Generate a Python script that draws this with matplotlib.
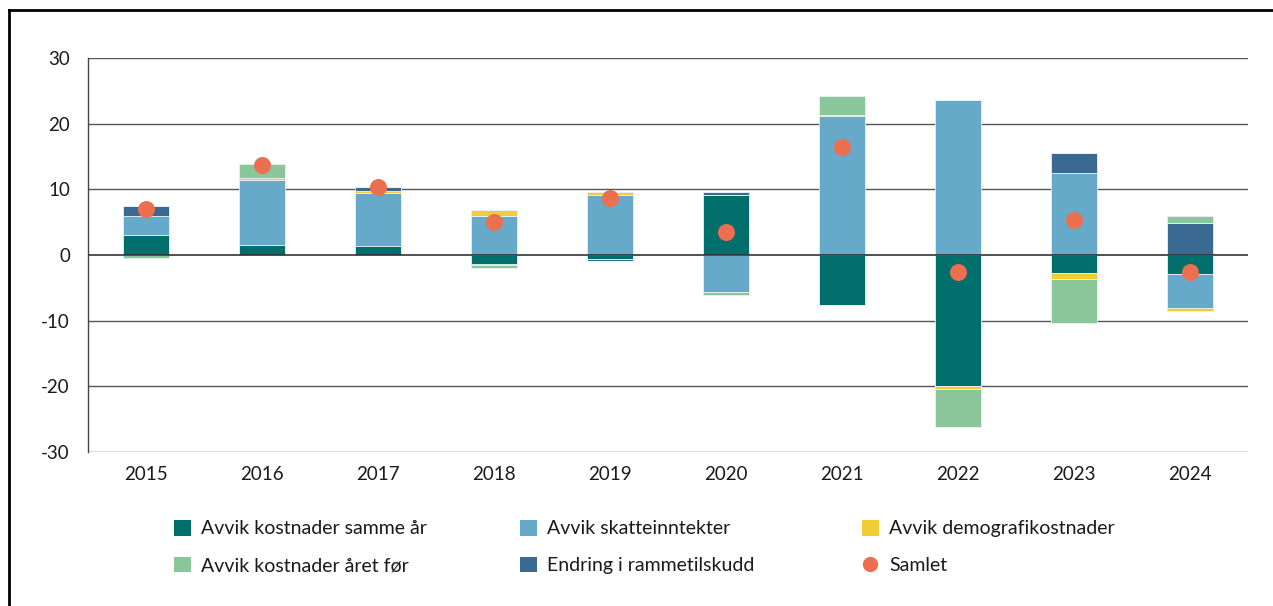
import matplotlib
matplotlib.use("Agg")
import matplotlib.pyplot as plt
import numpy as np
from matplotlib.lines import Line2D
from matplotlib.patches import Patch

years = ["2015", "2016", "2017", "2018", "2019", "2020", "2021", "2022", "2023", "2024"]
kost_samme_aar = [3.0, 1.5, 1.4, -1.4, -0.6, 9.1, -7.6, -19.9, -2.7, -2.9]
skatteinntekter = [2.9, 9.9, 8.0, 5.9, 9.1, -5.6, 21.1, 23.6, 12.5, -5.2]
demografi = [0.1, 0.3, 0.3, 1.0, 0.5, 0.0, 0.2, -0.45, -1.0, -0.4]
rammetilskudd = [1.4, 0.0, 0.6, -0.15, -0.3, 0.5, 0.0, 0.0, 3.1, 4.9]
kost_aaret_foer = [-0.4, 2.1, 0.0, -0.4, 0.0, -0.5, 2.9, -5.8, -6.7, 1.0]
samlet = [7.0, 13.7, 10.35, 5.0, 8.7, 3.55, 16.45, -2.55, 5.3, -2.55]

labels = ["Avvik kostnader samme år", "Avvik skatteinntekter", "Avvik demografikostnader",
          "Endring i rammetilskudd", "Avvik kostnader året før"]
colors = ["#006E6A", "#66A9C8", "#F2CC35", "#3A6A92", "#8AC699"]
dot_color = "#EC7050"

plt.rcParams['font.family'] = ['Lato', 'DejaVu Sans']

W, H = 1273, 606
fig = plt.figure(figsize=(W / 100, H / 100), dpi=100)
ax = fig.add_axes([88 / W, 1 - 452 / H, (1248 - 88) / W, (452 - 58) / H])

x = np.arange(len(years))
series = [kost_samme_aar, skatteinntekter, demografi, rammetilskudd, kost_aaret_foer]
pos_base = np.zeros(len(years))
neg_base = np.zeros(len(years))
handles = []
for vals, lab, col in zip(series, labels, colors):
    v = np.array(vals, dtype=float)
    pos = np.where(v > 0, v, 0)
    neg = np.where(v < 0, v, 0)
    ax.bar(x, pos, bottom=pos_base, width=0.40, color=col, edgecolor="#e8f0f4", linewidth=0.6, zorder=3)
    ax.bar(x, neg, bottom=neg_base, width=0.40, color=col, edgecolor="#e8f0f4", linewidth=0.6, zorder=3)
    pos_base += pos
    neg_base += neg
    handles.append(Patch(facecolor=col, label=lab))

ax.scatter(x, samlet, s=150, color=dot_color, zorder=5, linewidths=0)
hs = Line2D([], [], marker="o", linestyle="none", markersize=11, markerfacecolor=dot_color,
            markeredgewidth=0, label="Samlet")

ax.set_xlim(-0.5, len(years) - 0.5)
ax.set_ylim(-30, 30)
ax.set_yticks([-30, -20, -10, 0, 10, 20, 30])
ax.set_yticklabels(["-30", "-20", "-10", "0", "10", "20", "30"])
ax.set_xticks(x)
ax.set_xticklabels(years)
ax.tick_params(axis="both", length=0, labelsize=13.5, colors="#1a1a1a")
ax.tick_params(axis="y", pad=13)
ax.tick_params(axis="x", pad=10)
for yv in [-30, -20, -10, 10, 20, 30]:
    ax.axhline(yv, color="#555555", linewidth=1.0, zorder=1)
ax.axhline(0, color="#333333", linewidth=1.2, zorder=4)
for s in ["top", "right", "bottom"]:
    ax.spines[s].set_visible(False)
ax.spines["left"].set_color("#444444")
ax.spines["left"].set_linewidth(1.0)

# legend: three columns placed individually, row-wise order
cols = [
    ([handles[0], handles[4]], 174),
    ([handles[1], handles[3]], 520),
    ([handles[2], hs], 862),
]
for hl, xpx in cols:
    fig.legend(handles=hl, loc="upper left", bbox_to_anchor=(xpx / W, 1 - 520 / H),
               frameon=False, fontsize=14, handlelength=0.85, handleheight=0.85,
               handletextpad=0.55, labelspacing=1.0, borderaxespad=0, borderpad=0,
               labelcolor="#1a1a1a")

# outer frame lines
fig.add_artist(Line2D([8.5 / W, 1.0], [1 - 10 / H, 1 - 10 / H], color="black", linewidth=2,
                      transform=fig.transFigure))
fig.add_artist(Line2D([8.5 / W, 8.5 / W], [1 - 10 / H, 0], color="black", linewidth=2,
                      transform=fig.transFigure))

fig.savefig("out.png", dpi=100)
